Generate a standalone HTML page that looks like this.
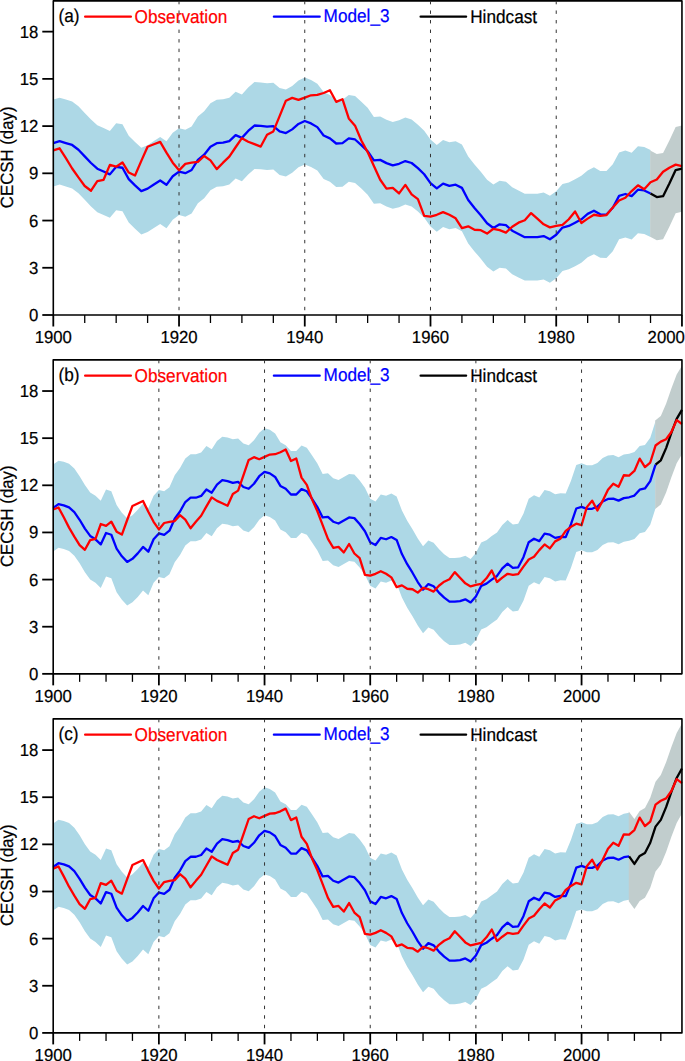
<!DOCTYPE html>
<html><head><meta charset="utf-8"><style>
html,body{margin:0;padding:0;background:#fff;}
svg{display:block;}
text{text-rendering:geometricPrecision;}
.t{font-family:"Liberation Sans", sans-serif;font-size:17.2px;stroke:currentColor;stroke-width:0.2px;}
.n{font-family:"Liberation Sans", sans-serif;font-size:16.75px;stroke:currentColor;stroke-width:0.2px;}
</style></head><body>
<svg width="685" height="1061" viewBox="0 0 685 1061">
<rect width="685" height="1061" fill="#fff"/>
<polygon points="53.30,99.62 59.59,97.72 65.87,99.62 72.16,101.52 78.45,106.26 84.73,112.91 91.02,119.55 97.31,125.24 103.59,128.09 109.88,130.94 116.17,123.34 122.45,124.29 128.74,135.68 135.02,141.94 141.31,147.64 147.60,145.17 153.88,141.00 160.17,137.01 166.46,141.37 172.74,132.83 179.03,128.13 185.32,129.77 191.60,126.56 197.89,116.44 204.18,111.30 210.46,103.27 216.75,99.74 223.04,99.26 229.32,97.65 235.61,91.71 241.90,94.44 248.18,87.53 254.47,82.07 260.75,82.39 267.04,83.20 273.33,82.72 279.61,88.02 285.90,89.62 292.19,85.93 298.47,80.47 304.76,77.58 311.05,79.99 317.33,83.68 323.62,92.03 329.91,94.92 336.19,100.06 342.48,99.74 348.77,94.92 355.05,96.04 361.34,101.67 367.63,107.77 373.91,116.92 380.20,116.44 386.48,119.68 392.77,121.96 399.06,120.35 405.34,117.62 411.63,119.55 417.92,124.69 424.20,130.79 430.49,139.62 436.78,144.92 443.06,140.10 449.35,142.35 455.64,141.23 461.92,144.44 468.21,156.48 474.50,164.51 480.78,171.74 487.07,179.77 493.36,184.57 499.64,180.86 505.93,181.67 512.21,187.29 518.50,190.50 524.79,193.71 531.07,193.71 537.36,193.71 543.65,192.59 549.93,195.80 556.22,191.30 562.51,184.07 568.79,182.47 575.08,179.26 581.37,175.87 587.65,170.45 593.94,167.31 600.23,170.92 606.51,171.09 612.80,164.34 619.09,152.39 625.37,150.55 631.66,152.70 637.94,146.26 644.23,147.02 650.52,150.09 650.52,236.99 644.23,233.92 637.94,233.15 631.66,239.59 625.37,237.45 619.09,239.28 612.80,251.24 606.51,257.99 600.23,257.81 593.94,254.21 587.65,257.35 581.37,262.76 575.08,266.15 568.79,269.36 562.51,270.97 556.22,278.20 549.93,282.69 543.65,279.48 537.36,280.61 531.07,280.61 524.79,280.61 518.50,277.39 512.21,274.18 505.93,268.56 499.64,267.76 493.36,271.47 487.07,266.66 480.78,258.64 474.50,251.41 468.21,243.38 461.92,231.33 455.64,228.12 449.35,229.25 443.06,227.00 436.78,231.82 430.49,226.52 424.20,217.68 417.92,211.58 411.63,206.44 405.34,204.52 399.06,207.25 392.77,208.85 386.48,206.58 380.20,203.34 373.91,203.82 367.63,194.66 361.34,188.56 355.05,182.94 348.77,181.82 342.48,186.63 336.19,186.96 329.91,181.82 323.62,178.93 317.33,170.57 311.05,166.88 304.76,164.47 298.47,167.36 292.19,172.82 285.90,176.52 279.61,174.91 273.33,169.61 267.04,170.09 260.75,169.29 254.47,168.97 248.18,174.43 241.90,181.33 235.61,178.60 229.32,184.55 223.04,186.15 216.75,186.63 210.46,190.17 204.18,198.20 197.89,203.34 191.60,213.45 185.32,216.66 179.03,215.02 172.74,219.73 166.46,228.27 160.17,223.91 153.88,227.89 147.60,232.07 141.31,234.53 135.02,228.84 128.74,222.58 122.45,211.19 116.17,210.24 109.88,217.83 103.59,214.99 97.31,212.14 91.02,206.44 84.73,199.80 78.45,193.16 72.16,188.41 65.87,186.52 59.59,184.62 53.30,186.52" fill="#ADD8E6"/>
<polygon points="650.17,150.40 656.80,153.93 663.09,153.01 669.38,140.44 675.66,126.95 681.95,125.42 681.95,211.69 675.66,213.22 669.38,226.71 663.09,239.28 656.80,240.20 650.17,236.67" fill="#C1CDCD"/>
<polyline points="53.30,143.07 59.59,141.17 65.87,143.07 72.16,144.97 78.45,149.71 84.73,156.35 91.02,163.00 97.31,168.69 103.59,171.54 109.88,174.38 116.17,166.79 122.45,167.74 128.74,179.13 135.02,185.39 141.31,191.09 147.60,188.62 153.88,184.44 160.17,180.46 166.46,184.82 172.74,176.28 179.03,171.57 185.32,173.22 191.60,170.00 197.89,159.89 204.18,154.75 210.46,146.72 216.75,143.19 223.04,142.70 229.32,141.10 235.61,135.16 241.90,137.89 248.18,130.98 254.47,125.52 260.75,125.84 267.04,126.65 273.33,126.16 279.61,131.46 285.90,133.07 292.19,129.38 298.47,123.92 304.76,121.02 311.05,123.43 317.33,127.13 323.62,135.48 329.91,138.37 336.19,143.51 342.48,143.19 348.77,138.37 355.05,139.49 361.34,145.11 367.63,151.22 373.91,160.37 380.20,159.89 386.48,163.13 392.77,165.40 399.06,163.80 405.34,161.07 411.63,163.00 417.92,168.13 424.20,174.24 430.49,183.07 436.78,188.37 443.06,183.55 449.35,185.80 455.64,184.67 461.92,187.89 468.21,199.93 474.50,207.96 480.78,215.19 487.07,223.22 493.36,228.02 499.64,224.31 505.93,225.11 512.21,230.73 518.50,233.95 524.79,237.16 531.07,237.16 537.36,237.16 543.65,236.03 549.93,239.25 556.22,234.75 562.51,227.52 568.79,225.92 575.08,222.70 581.37,219.31 587.65,213.90 593.94,210.76 600.23,214.37 606.51,214.54 612.80,207.79 619.09,195.84 625.37,194.00 631.66,196.14 637.94,189.71 644.23,190.47 650.52,193.54" fill="none" stroke="#00f" stroke-width="2.3" stroke-linejoin="round"/>
<polyline points="650.52,193.54 656.80,197.06 663.09,196.14 669.38,183.57 675.66,170.09 681.95,168.55" fill="none" stroke="#000" stroke-width="2.3" stroke-linejoin="round"/>
<polyline points="53.30,150.38 59.59,148.29 65.87,158.17 72.16,168.49 78.45,177.44 84.73,185.96 91.02,190.71 97.31,181.04 103.59,179.78 109.88,164.89 116.17,166.69 122.45,162.48 128.74,172.52 135.02,175.47 141.31,160.87 147.60,146.78 153.88,144.27 160.17,141.84 166.46,152.63 172.74,162.67 179.03,170.34 185.32,163.86 191.60,162.68 197.89,161.92 204.18,155.99 210.46,160.40 216.75,169.12 223.04,162.68 229.32,156.60 235.61,147.24 241.90,138.18 248.18,141.74 254.47,144.11 260.75,146.57 267.04,134.81 273.33,131.41 279.61,116.13 285.90,100.69 292.19,97.91 298.47,99.95 304.76,97.58 311.05,95.28 317.33,94.94 323.62,92.99 329.91,90.29 336.19,101.82 342.48,99.19 348.77,118.43 355.05,125.64 361.34,140.44 367.63,152.08 373.91,165.90 380.20,179.73 386.48,188.68 392.77,187.80 399.06,193.41 405.34,184.91 411.63,194.42 417.92,199.07 424.20,215.87 430.49,216.53 436.78,214.78 443.06,212.14 449.35,214.78 455.64,218.32 461.92,228.07 468.21,226.35 474.50,229.73 480.78,230.22 487.07,233.60 493.36,228.77 499.64,230.20 505.93,232.59 512.21,226.74 518.50,222.69 524.79,220.22 531.07,213.11 537.36,218.72 543.65,224.34 549.93,227.39 556.22,225.96 562.51,224.87 568.79,219.25 575.08,211.45 581.37,222.97 587.65,218.64 593.94,214.75 600.23,215.78 606.51,215.06 612.80,207.52 619.09,200.46 625.37,197.71 631.66,191.04 637.94,185.31 644.23,189.32 650.52,182.26 656.80,179.50 663.09,171.81 669.38,167.73 675.66,164.60 681.95,166.08" fill="none" stroke="#f00" stroke-width="2.3" stroke-linejoin="round"/>
<rect x="53.30" y="0.90" width="628.65" height="314.10" fill="none" stroke="#000" stroke-width="1.6" stroke-linejoin="round"/>
<line x1="42.30" y1="315.00" x2="53.30" y2="315.00" stroke="#000" stroke-width="1.8"/>
<text transform="translate(38.3,321.00) scale(1,1.04)" text-anchor="end" class="n">0</text>
<line x1="42.30" y1="267.77" x2="53.30" y2="267.77" stroke="#000" stroke-width="1.8"/>
<text transform="translate(38.3,273.77) scale(1,1.04)" text-anchor="end" class="n">3</text>
<line x1="42.30" y1="220.55" x2="53.30" y2="220.55" stroke="#000" stroke-width="1.8"/>
<text transform="translate(38.3,226.55) scale(1,1.04)" text-anchor="end" class="n">6</text>
<line x1="42.30" y1="173.32" x2="53.30" y2="173.32" stroke="#000" stroke-width="1.8"/>
<text transform="translate(38.3,179.32) scale(1,1.04)" text-anchor="end" class="n">9</text>
<line x1="42.30" y1="126.10" x2="53.30" y2="126.10" stroke="#000" stroke-width="1.8"/>
<text transform="translate(38.3,132.10) scale(1,1.04)" text-anchor="end" class="n">12</text>
<line x1="42.30" y1="78.87" x2="53.30" y2="78.87" stroke="#000" stroke-width="1.8"/>
<text transform="translate(38.3,84.87) scale(1,1.04)" text-anchor="end" class="n">15</text>
<line x1="42.30" y1="31.64" x2="53.30" y2="31.64" stroke="#000" stroke-width="1.8"/>
<text transform="translate(38.3,37.64) scale(1,1.04)" text-anchor="end" class="n">18</text>
<line x1="53.30" y1="315.00" x2="53.30" y2="326.50" stroke="#000" stroke-width="1.8"/>
<text transform="translate(53.30,342.70) scale(1,1.04)" text-anchor="middle" class="n">1900</text>
<line x1="84.73" y1="315.00" x2="84.73" y2="323.00" stroke="#000" stroke-width="1.3"/>
<line x1="116.17" y1="315.00" x2="116.17" y2="323.00" stroke="#000" stroke-width="1.3"/>
<line x1="147.60" y1="315.00" x2="147.60" y2="323.00" stroke="#000" stroke-width="1.3"/>
<line x1="179.03" y1="315.00" x2="179.03" y2="326.50" stroke="#000" stroke-width="1.8"/>
<text transform="translate(179.03,342.70) scale(1,1.04)" text-anchor="middle" class="n">1920</text>
<line x1="210.46" y1="315.00" x2="210.46" y2="323.00" stroke="#000" stroke-width="1.3"/>
<line x1="241.90" y1="315.00" x2="241.90" y2="323.00" stroke="#000" stroke-width="1.3"/>
<line x1="273.33" y1="315.00" x2="273.33" y2="323.00" stroke="#000" stroke-width="1.3"/>
<line x1="304.76" y1="315.00" x2="304.76" y2="326.50" stroke="#000" stroke-width="1.8"/>
<text transform="translate(304.76,342.70) scale(1,1.04)" text-anchor="middle" class="n">1940</text>
<line x1="336.19" y1="315.00" x2="336.19" y2="323.00" stroke="#000" stroke-width="1.3"/>
<line x1="367.63" y1="315.00" x2="367.63" y2="323.00" stroke="#000" stroke-width="1.3"/>
<line x1="399.06" y1="315.00" x2="399.06" y2="323.00" stroke="#000" stroke-width="1.3"/>
<line x1="430.49" y1="315.00" x2="430.49" y2="326.50" stroke="#000" stroke-width="1.8"/>
<text transform="translate(430.49,342.70) scale(1,1.04)" text-anchor="middle" class="n">1960</text>
<line x1="461.92" y1="315.00" x2="461.92" y2="323.00" stroke="#000" stroke-width="1.3"/>
<line x1="493.36" y1="315.00" x2="493.36" y2="323.00" stroke="#000" stroke-width="1.3"/>
<line x1="524.79" y1="315.00" x2="524.79" y2="323.00" stroke="#000" stroke-width="1.3"/>
<line x1="556.22" y1="315.00" x2="556.22" y2="326.50" stroke="#000" stroke-width="1.8"/>
<text transform="translate(556.22,342.70) scale(1,1.04)" text-anchor="middle" class="n">1980</text>
<line x1="587.65" y1="315.00" x2="587.65" y2="323.00" stroke="#000" stroke-width="1.3"/>
<line x1="619.09" y1="315.00" x2="619.09" y2="323.00" stroke="#000" stroke-width="1.3"/>
<line x1="650.52" y1="315.00" x2="650.52" y2="323.00" stroke="#000" stroke-width="1.3"/>
<line x1="681.95" y1="315.00" x2="681.95" y2="326.50" stroke="#000" stroke-width="1.8"/>
<text transform="translate(647.6,342.70) scale(1,1.04)" class="n">2000</text>
<text transform="translate(12.8,157.35) rotate(-90) scale(1,1.06)" text-anchor="middle" class="t" style="font-size:16.8px">CECSH (day)</text>
<text transform="translate(58.5,21.80) scale(1,1.08)" class="t">(a)</text>
<line x1="85.1" y1="16.70" x2="130.9" y2="16.70" stroke="#f00" stroke-width="2.3" stroke-linecap="round"/>
<text transform="translate(134.6,23.30) scale(1,1.08)" class="t" fill="#f00" color="#f00">Observation</text>
<line x1="273.9" y1="16.70" x2="319.7" y2="16.70" stroke="#00f" stroke-width="2.3" stroke-linecap="round"/>
<text transform="translate(323.6,22.00) scale(1,1.08)" class="t" fill="#00f" color="#00f">Model_3</text>
<line x1="420.6" y1="16.70" x2="466.1" y2="16.70" stroke="#000" stroke-width="2.3" stroke-linecap="round"/>
<text transform="translate(470.2,23.30) scale(1,1.08)" class="t">Hindcast</text>
<line x1="179.03" y1="0.90" x2="179.03" y2="315.00" stroke="#333" stroke-width="1" stroke-dasharray="3.4,6.16"/>
<line x1="304.76" y1="0.90" x2="304.76" y2="315.00" stroke="#333" stroke-width="1" stroke-dasharray="3.4,6.16"/>
<line x1="430.49" y1="0.90" x2="430.49" y2="315.00" stroke="#333" stroke-width="1" stroke-dasharray="3.4,6.16"/>
<line x1="556.22" y1="0.90" x2="556.22" y2="315.00" stroke="#333" stroke-width="1" stroke-dasharray="3.4,6.16"/>
<polygon points="53.20,464.38 58.48,460.64 63.77,461.83 69.05,463.87 74.33,468.62 79.62,476.26 84.90,485.09 90.19,492.39 95.47,495.78 100.75,500.87 106.04,489.50 111.32,491.20 116.60,505.12 121.89,512.76 127.17,518.36 132.45,515.30 137.74,509.87 143.02,503.42 148.31,508.17 153.59,495.78 158.87,489.93 164.16,491.28 169.44,487.16 174.72,475.16 180.01,467.99 185.29,458.49 190.57,454.20 195.86,454.20 201.14,452.40 206.42,445.95 211.71,449.18 216.99,441.12 222.28,436.64 227.56,437.53 232.84,439.33 238.13,438.43 243.41,443.45 248.69,445.24 253.98,440.22 259.26,432.70 264.54,428.31 269.83,429.83 275.11,433.41 280.40,442.37 285.68,445.24 290.96,450.97 296.25,450.97 301.53,445.60 306.81,447.75 312.10,455.45 317.38,463.51 322.66,473.90 327.95,473.36 333.23,478.20 338.52,479.99 343.80,476.95 349.08,473.90 354.37,474.62 359.65,480.53 364.93,487.70 370.22,498.80 375.50,501.51 380.78,494.38 386.07,495.74 391.35,493.53 396.63,496.41 401.92,510.50 407.20,520.69 412.49,529.18 417.77,538.51 423.05,546.15 428.34,540.55 433.62,542.76 438.90,549.04 444.19,554.13 449.47,558.03 454.75,558.03 460.04,557.53 465.32,555.83 470.61,558.88 475.89,552.94 481.17,542.54 486.46,540.13 491.74,536.12 497.02,532.42 502.31,524.88 507.59,520.06 512.87,524.39 518.16,523.75 523.44,513.64 528.73,498.70 534.01,495.17 539.29,497.58 544.58,490.03 549.86,491.15 555.14,494.36 560.43,493.24 565.71,493.56 570.99,480.71 576.28,464.98 581.56,463.32 586.84,465.28 592.13,465.28 597.41,463.08 602.70,457.99 607.98,455.44 613.26,455.11 618.55,457.14 623.83,454.60 629.11,453.75 634.40,452.05 639.68,446.12 644.96,444.93 650.25,437.64 655.53,421.19 655.53,508.23 650.25,524.68 644.96,531.97 639.68,533.16 634.40,539.10 629.11,540.79 623.83,541.64 618.55,544.18 613.26,542.15 607.98,542.49 602.70,545.03 597.41,550.12 592.13,552.32 586.84,552.32 581.56,550.36 576.28,552.02 570.99,567.76 565.71,580.61 560.43,580.28 555.14,581.41 549.86,578.20 544.58,577.07 539.29,584.62 534.01,582.21 528.73,585.74 523.44,600.68 518.16,610.80 512.87,611.44 507.59,607.10 502.31,611.92 497.02,619.47 491.74,623.16 486.46,627.18 481.17,629.59 475.89,639.98 470.61,645.93 465.32,642.87 460.04,644.57 454.75,645.08 449.47,645.08 444.19,641.17 438.90,636.08 433.62,629.80 428.34,627.59 423.05,633.20 417.77,625.56 412.49,616.22 407.20,607.73 401.92,597.55 396.63,583.46 391.35,580.57 386.07,582.78 380.78,581.42 375.50,588.55 370.22,585.85 364.93,574.74 359.65,567.57 354.37,561.66 349.08,560.95 343.80,563.99 338.52,567.04 333.23,565.25 327.95,560.41 322.66,560.95 317.38,550.56 312.10,542.49 306.81,534.79 301.53,532.64 296.25,538.02 290.96,538.02 285.68,532.28 280.40,529.42 275.11,520.46 269.83,516.88 264.54,515.35 259.26,519.74 253.98,527.27 248.69,532.28 243.41,530.49 238.13,525.47 232.84,526.37 227.56,524.58 222.28,523.68 216.99,528.16 211.71,536.22 206.42,533.00 201.14,539.45 195.86,541.24 190.57,541.24 185.29,545.54 180.01,555.03 174.72,562.20 169.44,574.20 164.16,578.32 158.87,576.98 153.59,582.83 148.31,595.22 143.02,590.47 137.74,596.92 132.45,602.35 127.17,605.40 121.89,599.80 116.60,592.16 111.32,578.24 106.04,576.55 100.75,587.92 95.47,582.83 90.19,579.43 84.90,572.13 79.62,563.30 74.33,555.67 69.05,550.91 63.77,548.88 58.48,547.69 53.20,551.42" fill="#ADD8E6"/>
<polygon points="655.18,420.40 660.82,415.99 666.10,403.79 671.38,388.52 676.67,374.62 681.95,365.63 681.95,454.25 676.67,463.23 671.38,477.14 666.10,492.40 660.82,504.61 655.18,509.02" fill="#C1CDCD"/>
<polyline points="53.20,507.90 58.48,504.17 63.77,505.35 69.05,507.39 74.33,512.14 79.62,519.78 84.90,528.61 90.19,535.91 95.47,539.30 100.75,544.40 106.04,533.02 111.32,534.72 116.60,548.64 121.89,556.28 127.17,561.88 132.45,558.83 137.74,553.39 143.02,546.94 148.31,551.70 153.59,539.30 158.87,533.45 164.16,534.80 169.44,530.68 174.72,518.68 180.01,511.51 185.29,502.02 190.57,497.72 195.86,497.72 201.14,495.93 206.42,489.48 211.71,492.70 216.99,484.64 222.28,480.16 227.56,481.06 232.84,482.85 238.13,481.95 243.41,486.97 248.69,488.76 253.98,483.74 259.26,476.22 264.54,471.83 269.83,473.35 275.11,476.94 280.40,485.89 285.68,488.76 290.96,494.49 296.25,494.49 301.53,489.12 306.81,491.27 312.10,498.97 317.38,507.03 322.66,517.42 327.95,516.89 333.23,521.72 338.52,523.51 343.80,520.47 349.08,517.42 354.37,518.14 359.65,524.05 364.93,531.22 370.22,542.32 375.50,545.03 380.78,537.90 386.07,539.26 391.35,537.05 396.63,539.94 401.92,554.03 407.20,564.21 412.49,572.70 417.77,582.04 423.05,589.67 428.34,584.07 433.62,586.28 438.90,592.56 444.19,597.65 449.47,601.56 454.75,601.56 460.04,601.05 465.32,599.35 470.61,602.41 475.89,596.46 481.17,586.06 486.46,583.66 491.74,579.64 497.02,575.95 502.31,568.40 507.59,563.58 512.87,567.92 518.16,567.27 523.44,557.16 528.73,542.22 534.01,538.69 539.29,541.10 544.58,533.55 549.86,534.67 555.14,537.89 560.43,536.76 565.71,537.08 570.99,524.24 576.28,508.50 581.56,506.84 586.84,508.80 592.13,508.80 597.41,506.60 602.70,501.51 607.98,498.97 613.26,498.63 618.55,500.66 623.83,498.12 629.11,497.27 634.40,495.57 639.68,489.64 644.96,488.45 650.25,481.16 655.53,464.71" fill="none" stroke="#00f" stroke-width="2.3" stroke-linejoin="round"/>
<polyline points="655.53,464.71 660.82,460.30 666.10,448.09 671.38,432.83 676.67,418.93 681.95,409.94" fill="none" stroke="#000" stroke-width="2.3" stroke-linejoin="round"/>
<polyline points="53.20,509.54 58.48,507.46 63.77,517.32 69.05,527.62 74.33,536.55 79.62,545.06 84.90,549.80 90.19,540.14 95.47,538.89 100.75,524.03 106.04,525.82 111.32,521.62 116.60,531.64 121.89,534.59 127.17,520.01 132.45,505.95 137.74,503.44 143.02,501.02 148.31,511.79 153.59,521.81 158.87,529.46 164.16,523.00 169.44,521.82 174.72,521.06 180.01,515.14 185.29,519.54 190.57,528.25 195.86,521.82 201.14,515.75 206.42,506.41 211.71,497.37 216.99,500.92 222.28,503.29 227.56,505.74 232.84,494.00 238.13,490.61 243.41,475.36 248.69,459.95 253.98,457.18 259.26,459.21 264.54,456.85 269.83,454.55 275.11,454.21 280.40,452.27 285.68,449.57 290.96,461.07 296.25,458.46 301.53,477.66 306.81,484.85 312.10,499.63 317.38,511.24 322.66,525.04 327.95,538.83 333.23,547.78 338.52,546.89 343.80,552.49 349.08,544.01 354.37,553.50 359.65,558.14 364.93,574.91 370.22,575.57 375.50,573.82 380.78,571.18 386.07,573.82 391.35,577.36 396.63,587.09 401.92,585.37 407.20,588.74 412.49,589.23 417.77,592.61 423.05,587.79 428.34,589.21 433.62,591.60 438.90,585.75 444.19,581.71 449.47,579.25 454.75,572.15 460.04,577.76 465.32,583.36 470.61,586.41 475.89,584.98 481.17,583.90 486.46,578.28 491.74,570.50 497.02,581.99 502.31,577.67 507.59,573.79 512.87,574.82 518.16,574.11 523.44,566.57 528.73,559.53 534.01,556.78 539.29,550.13 544.58,544.41 549.86,548.41 555.14,541.36 560.43,538.61 565.71,530.93 570.99,526.86 576.28,523.73 581.56,525.22 586.84,507.11 592.13,500.66 597.41,510.50 602.70,500.66 607.98,489.64 613.26,483.70 618.55,486.76 623.83,475.23 629.11,475.56 634.40,470.99 639.68,458.61 644.96,467.09 650.25,462.51 655.53,445.55 660.82,441.65 666.10,439.28 671.38,431.98 676.67,420.11 681.95,424.01" fill="none" stroke="#f00" stroke-width="2.3" stroke-linejoin="round"/>
<rect x="53.20" y="359.90" width="628.75" height="313.95" fill="none" stroke="#000" stroke-width="1.6" stroke-linejoin="round"/>
<line x1="42.20" y1="673.85" x2="53.20" y2="673.85" stroke="#000" stroke-width="1.8"/>
<text transform="translate(38.3,679.85) scale(1,1.04)" text-anchor="end" class="n">0</text>
<line x1="42.20" y1="626.71" x2="53.20" y2="626.71" stroke="#000" stroke-width="1.8"/>
<text transform="translate(38.3,632.71) scale(1,1.04)" text-anchor="end" class="n">3</text>
<line x1="42.20" y1="579.58" x2="53.20" y2="579.58" stroke="#000" stroke-width="1.8"/>
<text transform="translate(38.3,585.58) scale(1,1.04)" text-anchor="end" class="n">6</text>
<line x1="42.20" y1="532.44" x2="53.20" y2="532.44" stroke="#000" stroke-width="1.8"/>
<text transform="translate(38.3,538.44) scale(1,1.04)" text-anchor="end" class="n">9</text>
<line x1="42.20" y1="485.31" x2="53.20" y2="485.31" stroke="#000" stroke-width="1.8"/>
<text transform="translate(38.3,491.31) scale(1,1.04)" text-anchor="end" class="n">12</text>
<line x1="42.20" y1="438.17" x2="53.20" y2="438.17" stroke="#000" stroke-width="1.8"/>
<text transform="translate(38.3,444.17) scale(1,1.04)" text-anchor="end" class="n">15</text>
<line x1="42.20" y1="391.03" x2="53.20" y2="391.03" stroke="#000" stroke-width="1.8"/>
<text transform="translate(38.3,397.03) scale(1,1.04)" text-anchor="end" class="n">18</text>
<line x1="53.20" y1="673.85" x2="53.20" y2="685.35" stroke="#000" stroke-width="1.8"/>
<text transform="translate(53.20,701.55) scale(1,1.04)" text-anchor="middle" class="n">1900</text>
<line x1="79.62" y1="673.85" x2="79.62" y2="681.85" stroke="#000" stroke-width="1.3"/>
<line x1="106.04" y1="673.85" x2="106.04" y2="681.85" stroke="#000" stroke-width="1.3"/>
<line x1="132.45" y1="673.85" x2="132.45" y2="681.85" stroke="#000" stroke-width="1.3"/>
<line x1="158.87" y1="673.85" x2="158.87" y2="685.35" stroke="#000" stroke-width="1.8"/>
<text transform="translate(158.87,701.55) scale(1,1.04)" text-anchor="middle" class="n">1920</text>
<line x1="185.29" y1="673.85" x2="185.29" y2="681.85" stroke="#000" stroke-width="1.3"/>
<line x1="211.71" y1="673.85" x2="211.71" y2="681.85" stroke="#000" stroke-width="1.3"/>
<line x1="238.13" y1="673.85" x2="238.13" y2="681.85" stroke="#000" stroke-width="1.3"/>
<line x1="264.54" y1="673.85" x2="264.54" y2="685.35" stroke="#000" stroke-width="1.8"/>
<text transform="translate(264.54,701.55) scale(1,1.04)" text-anchor="middle" class="n">1940</text>
<line x1="290.96" y1="673.85" x2="290.96" y2="681.85" stroke="#000" stroke-width="1.3"/>
<line x1="317.38" y1="673.85" x2="317.38" y2="681.85" stroke="#000" stroke-width="1.3"/>
<line x1="343.80" y1="673.85" x2="343.80" y2="681.85" stroke="#000" stroke-width="1.3"/>
<line x1="370.22" y1="673.85" x2="370.22" y2="685.35" stroke="#000" stroke-width="1.8"/>
<text transform="translate(370.22,701.55) scale(1,1.04)" text-anchor="middle" class="n">1960</text>
<line x1="396.63" y1="673.85" x2="396.63" y2="681.85" stroke="#000" stroke-width="1.3"/>
<line x1="423.05" y1="673.85" x2="423.05" y2="681.85" stroke="#000" stroke-width="1.3"/>
<line x1="449.47" y1="673.85" x2="449.47" y2="681.85" stroke="#000" stroke-width="1.3"/>
<line x1="475.89" y1="673.85" x2="475.89" y2="685.35" stroke="#000" stroke-width="1.8"/>
<text transform="translate(475.89,701.55) scale(1,1.04)" text-anchor="middle" class="n">1980</text>
<line x1="502.31" y1="673.85" x2="502.31" y2="681.85" stroke="#000" stroke-width="1.3"/>
<line x1="528.73" y1="673.85" x2="528.73" y2="681.85" stroke="#000" stroke-width="1.3"/>
<line x1="555.14" y1="673.85" x2="555.14" y2="681.85" stroke="#000" stroke-width="1.3"/>
<line x1="581.56" y1="673.85" x2="581.56" y2="685.35" stroke="#000" stroke-width="1.8"/>
<text transform="translate(581.56,701.55) scale(1,1.04)" text-anchor="middle" class="n">2000</text>
<line x1="607.98" y1="673.85" x2="607.98" y2="681.85" stroke="#000" stroke-width="1.3"/>
<line x1="634.40" y1="673.85" x2="634.40" y2="681.85" stroke="#000" stroke-width="1.3"/>
<line x1="660.82" y1="673.85" x2="660.82" y2="681.85" stroke="#000" stroke-width="1.3"/>
<text transform="translate(12.8,516.27) rotate(-90) scale(1,1.06)" text-anchor="middle" class="t" style="font-size:16.8px">CECSH (day)</text>
<text transform="translate(58.5,380.80) scale(1,1.08)" class="t">(b)</text>
<line x1="85.1" y1="375.70" x2="130.9" y2="375.70" stroke="#f00" stroke-width="2.3" stroke-linecap="round"/>
<text transform="translate(134.6,382.30) scale(1,1.08)" class="t" fill="#f00" color="#f00">Observation</text>
<line x1="273.9" y1="375.70" x2="319.7" y2="375.70" stroke="#00f" stroke-width="2.3" stroke-linecap="round"/>
<text transform="translate(323.6,381.00) scale(1,1.08)" class="t" fill="#00f" color="#00f">Model_3</text>
<line x1="420.6" y1="375.70" x2="466.1" y2="375.70" stroke="#000" stroke-width="2.3" stroke-linecap="round"/>
<text transform="translate(470.2,382.30) scale(1,1.08)" class="t">Hindcast</text>
<line x1="158.87" y1="359.90" x2="158.87" y2="673.85" stroke="#333" stroke-width="1" stroke-dasharray="3.4,6.16"/>
<line x1="264.54" y1="359.90" x2="264.54" y2="673.85" stroke="#333" stroke-width="1" stroke-dasharray="3.4,6.16"/>
<line x1="370.22" y1="359.90" x2="370.22" y2="673.85" stroke="#333" stroke-width="1" stroke-dasharray="3.4,6.16"/>
<line x1="475.89" y1="359.90" x2="475.89" y2="673.85" stroke="#333" stroke-width="1" stroke-dasharray="3.4,6.16"/>
<line x1="581.56" y1="359.90" x2="581.56" y2="673.85" stroke="#333" stroke-width="1" stroke-dasharray="3.4,6.16"/>
<polygon points="53.20,823.43 58.48,819.69 63.77,820.88 69.05,822.92 74.33,827.67 79.62,835.31 84.90,844.14 90.19,851.44 95.47,854.83 100.75,859.92 106.04,848.55 111.32,850.25 116.60,864.17 121.89,871.81 127.17,877.41 132.45,874.35 137.74,868.92 143.02,862.47 148.31,867.22 153.59,854.83 158.87,848.98 164.16,850.33 169.44,846.21 174.72,834.21 180.01,827.04 185.29,817.54 190.57,813.25 195.86,813.25 201.14,811.45 206.42,805.00 211.71,808.23 216.99,800.17 222.28,795.69 227.56,796.58 232.84,798.38 238.13,797.48 243.41,802.50 248.69,804.29 253.98,799.27 259.26,791.75 264.54,787.36 269.83,788.88 275.11,792.46 280.40,801.42 285.68,804.29 290.96,810.02 296.25,810.02 301.53,804.65 306.81,806.80 312.10,814.50 317.38,822.56 322.66,832.95 327.95,832.41 333.23,837.25 338.52,839.04 343.80,836.00 349.08,832.95 354.37,833.67 359.65,839.58 364.93,846.75 370.22,857.85 375.50,860.56 380.78,853.43 386.07,854.79 391.35,852.58 396.63,855.46 401.92,869.55 407.20,879.74 412.49,888.23 417.77,897.56 423.05,905.20 428.34,899.60 433.62,901.81 438.90,908.09 444.19,913.18 449.47,917.08 454.75,917.08 460.04,916.58 465.32,914.88 470.61,917.93 475.89,911.99 481.17,901.59 486.46,899.18 491.74,895.17 497.02,891.47 502.31,883.93 507.59,879.11 512.87,883.44 518.16,882.80 523.44,872.69 528.73,857.75 534.01,854.22 539.29,856.63 544.58,849.08 549.86,850.20 555.14,853.41 560.43,852.29 565.71,852.61 570.99,839.76 576.28,824.03 581.56,822.37 586.84,824.33 592.13,824.33 597.41,822.13 602.70,817.04 607.98,814.49 613.26,814.16 618.55,816.19 623.83,813.65 629.11,812.80 629.11,899.84 623.83,900.69 618.55,903.23 613.26,901.20 607.98,901.54 602.70,904.08 597.41,909.17 592.13,911.37 586.84,911.37 581.56,909.41 576.28,911.07 570.99,926.81 565.71,939.66 560.43,939.33 555.14,940.46 549.86,937.25 544.58,936.12 539.29,943.67 534.01,941.26 528.73,944.79 523.44,959.73 518.16,969.85 512.87,970.49 507.59,966.15 502.31,970.97 497.02,978.52 491.74,982.21 486.46,986.23 481.17,988.64 475.89,999.03 470.61,1004.98 465.32,1001.92 460.04,1003.62 454.75,1004.13 449.47,1004.13 444.19,1000.22 438.90,995.13 433.62,988.85 428.34,986.64 423.05,992.25 417.77,984.61 412.49,975.27 407.20,966.78 401.92,956.60 396.63,942.51 391.35,939.62 386.07,941.83 380.78,940.47 375.50,947.60 370.22,944.90 364.93,933.79 359.65,926.62 354.37,920.71 349.08,920.00 343.80,923.04 338.52,926.09 333.23,924.30 327.95,919.46 322.66,920.00 317.38,909.61 312.10,901.54 306.81,893.84 301.53,891.69 296.25,897.07 290.96,897.07 285.68,891.33 280.40,888.47 275.11,879.51 269.83,875.93 264.54,874.40 259.26,878.79 253.98,886.32 248.69,891.33 243.41,889.54 238.13,884.52 232.84,885.42 227.56,883.63 222.28,882.73 216.99,887.21 211.71,895.27 206.42,892.05 201.14,898.50 195.86,900.29 190.57,900.29 185.29,904.59 180.01,914.08 174.72,921.25 169.44,933.25 164.16,937.37 158.87,936.03 153.59,941.88 148.31,954.27 143.02,949.52 137.74,955.97 132.45,961.40 127.17,964.45 121.89,958.85 116.60,951.21 111.32,937.29 106.04,935.60 100.75,946.97 95.47,941.88 90.19,938.48 84.90,931.18 79.62,922.35 74.33,914.72 69.05,909.96 63.77,907.93 58.48,906.74 53.20,910.47" fill="#ADD8E6"/>
<polygon points="628.76,811.38 634.40,819.02 639.68,811.05 644.96,807.99 650.25,797.82 655.53,781.71 660.82,774.93 666.10,762.21 671.38,746.94 676.67,733.04 681.95,723.54 681.95,813.42 676.67,822.91 671.38,836.82 666.10,852.08 660.82,864.80 655.53,871.58 650.25,887.69 644.96,897.87 639.68,900.92 634.40,908.89 628.76,901.26" fill="#C1CDCD"/>
<polyline points="53.20,866.95 58.48,863.22 63.77,864.40 69.05,866.44 74.33,871.19 79.62,878.83 84.90,887.66 90.19,894.96 95.47,898.35 100.75,903.45 106.04,892.07 111.32,893.77 116.60,907.69 121.89,915.33 127.17,920.93 132.45,917.88 137.74,912.44 143.02,905.99 148.31,910.75 153.59,898.35 158.87,892.50 164.16,893.85 169.44,889.73 174.72,877.73 180.01,870.56 185.29,861.07 190.57,856.77 195.86,856.77 201.14,854.98 206.42,848.53 211.71,851.75 216.99,843.69 222.28,839.21 227.56,840.11 232.84,841.90 238.13,841.00 243.41,846.02 248.69,847.81 253.98,842.79 259.26,835.27 264.54,830.88 269.83,832.40 275.11,835.99 280.40,844.94 285.68,847.81 290.96,853.54 296.25,853.54 301.53,848.17 306.81,850.32 312.10,858.02 317.38,866.08 322.66,876.47 327.95,875.94 333.23,880.77 338.52,882.56 343.80,879.52 349.08,876.47 354.37,877.19 359.65,883.10 364.93,890.27 370.22,901.37 375.50,904.08 380.78,896.95 386.07,898.31 391.35,896.10 396.63,898.99 401.92,913.08 407.20,923.26 412.49,931.75 417.77,941.09 423.05,948.72 428.34,943.12 433.62,945.33 438.90,951.61 444.19,956.70 449.47,960.61 454.75,960.61 460.04,960.10 465.32,958.40 470.61,961.46 475.89,955.51 481.17,945.11 486.46,942.71 491.74,938.69 497.02,935.00 502.31,927.45 507.59,922.63 512.87,926.97 518.16,926.32 523.44,916.21 528.73,901.27 534.01,897.74 539.29,900.15 544.58,892.60 549.86,893.72 555.14,896.94 560.43,895.81 565.71,896.13 570.99,883.29 576.28,867.55 581.56,865.89 586.84,867.85 592.13,867.85 597.41,865.65 602.70,860.56 607.98,858.02 613.26,857.68 618.55,859.71 623.83,857.17 629.11,856.32" fill="none" stroke="#00f" stroke-width="2.3" stroke-linejoin="round"/>
<polyline points="629.11,856.32 634.40,863.95 639.68,855.98 644.96,852.93 650.25,842.75 655.53,826.64 660.82,819.86 666.10,807.14 671.38,791.88 676.67,777.98 681.95,768.48" fill="none" stroke="#000" stroke-width="2.3" stroke-linejoin="round"/>
<polyline points="53.20,868.59 58.48,866.51 63.77,876.37 69.05,886.67 74.33,895.60 79.62,904.11 84.90,908.85 90.19,899.19 95.47,897.94 100.75,883.08 106.04,884.87 111.32,880.67 116.60,890.69 121.89,893.64 127.17,879.06 132.45,865.00 137.74,862.49 143.02,860.07 148.31,870.84 153.59,880.86 158.87,888.51 164.16,882.05 169.44,880.87 174.72,880.11 180.01,874.19 185.29,878.59 190.57,887.30 195.86,880.87 201.14,874.80 206.42,865.46 211.71,856.42 216.99,859.97 222.28,862.34 227.56,864.79 232.84,853.05 238.13,849.66 243.41,834.41 248.69,819.00 253.98,816.23 259.26,818.26 264.54,815.90 269.83,813.60 275.11,813.26 280.40,811.32 285.68,808.62 290.96,820.12 296.25,817.51 301.53,836.71 306.81,843.90 312.10,858.68 317.38,870.29 322.66,884.09 327.95,897.88 333.23,906.83 338.52,905.94 343.80,911.54 349.08,903.06 354.37,912.55 359.65,917.19 364.93,933.96 370.22,934.62 375.50,932.87 380.78,930.23 386.07,932.87 391.35,936.41 396.63,946.14 401.92,944.42 407.20,947.79 412.49,948.28 417.77,951.66 423.05,946.84 428.34,948.26 433.62,950.65 438.90,944.80 444.19,940.76 449.47,938.30 454.75,931.20 460.04,936.81 465.32,942.41 470.61,945.46 475.89,944.03 481.17,942.95 486.46,937.33 491.74,929.55 497.02,941.04 502.31,936.72 507.59,932.84 512.87,933.87 518.16,933.16 523.44,925.62 528.73,918.58 534.01,915.83 539.29,909.18 544.58,903.46 549.86,907.46 555.14,900.41 560.43,897.66 565.71,889.98 570.99,885.91 576.28,882.78 581.56,884.27 586.84,866.16 592.13,859.71 597.41,869.55 602.70,859.71 607.98,848.69 613.26,842.75 618.55,845.81 623.83,834.28 629.11,834.61 634.40,830.04 639.68,817.66 644.96,826.14 650.25,821.56 655.53,804.60 660.82,800.70 666.10,798.33 671.38,791.03 676.67,779.16 681.95,783.06" fill="none" stroke="#f00" stroke-width="2.3" stroke-linejoin="round"/>
<rect x="53.20" y="718.90" width="628.75" height="314.00" fill="none" stroke="#000" stroke-width="1.6" stroke-linejoin="round"/>
<line x1="42.20" y1="1032.90" x2="53.20" y2="1032.90" stroke="#000" stroke-width="1.8"/>
<text transform="translate(38.3,1038.90) scale(1,1.04)" text-anchor="end" class="n">0</text>
<line x1="42.20" y1="985.76" x2="53.20" y2="985.76" stroke="#000" stroke-width="1.8"/>
<text transform="translate(38.3,991.76) scale(1,1.04)" text-anchor="end" class="n">3</text>
<line x1="42.20" y1="938.63" x2="53.20" y2="938.63" stroke="#000" stroke-width="1.8"/>
<text transform="translate(38.3,944.63) scale(1,1.04)" text-anchor="end" class="n">6</text>
<line x1="42.20" y1="891.49" x2="53.20" y2="891.49" stroke="#000" stroke-width="1.8"/>
<text transform="translate(38.3,897.49) scale(1,1.04)" text-anchor="end" class="n">9</text>
<line x1="42.20" y1="844.36" x2="53.20" y2="844.36" stroke="#000" stroke-width="1.8"/>
<text transform="translate(38.3,850.36) scale(1,1.04)" text-anchor="end" class="n">12</text>
<line x1="42.20" y1="797.22" x2="53.20" y2="797.22" stroke="#000" stroke-width="1.8"/>
<text transform="translate(38.3,803.22) scale(1,1.04)" text-anchor="end" class="n">15</text>
<line x1="42.20" y1="750.08" x2="53.20" y2="750.08" stroke="#000" stroke-width="1.8"/>
<text transform="translate(38.3,756.08) scale(1,1.04)" text-anchor="end" class="n">18</text>
<line x1="53.20" y1="1032.90" x2="53.20" y2="1044.40" stroke="#000" stroke-width="1.8"/>
<text transform="translate(53.20,1060.60) scale(1,1.04)" text-anchor="middle" class="n">1900</text>
<line x1="79.62" y1="1032.90" x2="79.62" y2="1040.90" stroke="#000" stroke-width="1.3"/>
<line x1="106.04" y1="1032.90" x2="106.04" y2="1040.90" stroke="#000" stroke-width="1.3"/>
<line x1="132.45" y1="1032.90" x2="132.45" y2="1040.90" stroke="#000" stroke-width="1.3"/>
<line x1="158.87" y1="1032.90" x2="158.87" y2="1044.40" stroke="#000" stroke-width="1.8"/>
<text transform="translate(158.87,1060.60) scale(1,1.04)" text-anchor="middle" class="n">1920</text>
<line x1="185.29" y1="1032.90" x2="185.29" y2="1040.90" stroke="#000" stroke-width="1.3"/>
<line x1="211.71" y1="1032.90" x2="211.71" y2="1040.90" stroke="#000" stroke-width="1.3"/>
<line x1="238.13" y1="1032.90" x2="238.13" y2="1040.90" stroke="#000" stroke-width="1.3"/>
<line x1="264.54" y1="1032.90" x2="264.54" y2="1044.40" stroke="#000" stroke-width="1.8"/>
<text transform="translate(264.54,1060.60) scale(1,1.04)" text-anchor="middle" class="n">1940</text>
<line x1="290.96" y1="1032.90" x2="290.96" y2="1040.90" stroke="#000" stroke-width="1.3"/>
<line x1="317.38" y1="1032.90" x2="317.38" y2="1040.90" stroke="#000" stroke-width="1.3"/>
<line x1="343.80" y1="1032.90" x2="343.80" y2="1040.90" stroke="#000" stroke-width="1.3"/>
<line x1="370.22" y1="1032.90" x2="370.22" y2="1044.40" stroke="#000" stroke-width="1.8"/>
<text transform="translate(370.22,1060.60) scale(1,1.04)" text-anchor="middle" class="n">1960</text>
<line x1="396.63" y1="1032.90" x2="396.63" y2="1040.90" stroke="#000" stroke-width="1.3"/>
<line x1="423.05" y1="1032.90" x2="423.05" y2="1040.90" stroke="#000" stroke-width="1.3"/>
<line x1="449.47" y1="1032.90" x2="449.47" y2="1040.90" stroke="#000" stroke-width="1.3"/>
<line x1="475.89" y1="1032.90" x2="475.89" y2="1044.40" stroke="#000" stroke-width="1.8"/>
<text transform="translate(475.89,1060.60) scale(1,1.04)" text-anchor="middle" class="n">1980</text>
<line x1="502.31" y1="1032.90" x2="502.31" y2="1040.90" stroke="#000" stroke-width="1.3"/>
<line x1="528.73" y1="1032.90" x2="528.73" y2="1040.90" stroke="#000" stroke-width="1.3"/>
<line x1="555.14" y1="1032.90" x2="555.14" y2="1040.90" stroke="#000" stroke-width="1.3"/>
<line x1="581.56" y1="1032.90" x2="581.56" y2="1044.40" stroke="#000" stroke-width="1.8"/>
<text transform="translate(581.56,1060.60) scale(1,1.04)" text-anchor="middle" class="n">2000</text>
<line x1="607.98" y1="1032.90" x2="607.98" y2="1040.90" stroke="#000" stroke-width="1.3"/>
<line x1="634.40" y1="1032.90" x2="634.40" y2="1040.90" stroke="#000" stroke-width="1.3"/>
<line x1="660.82" y1="1032.90" x2="660.82" y2="1040.90" stroke="#000" stroke-width="1.3"/>
<text transform="translate(12.8,875.30) rotate(-90) scale(1,1.06)" text-anchor="middle" class="t" style="font-size:16.8px">CECSH (day)</text>
<text transform="translate(58.5,739.80) scale(1,1.08)" class="t">(c)</text>
<line x1="85.1" y1="734.70" x2="130.9" y2="734.70" stroke="#f00" stroke-width="2.3" stroke-linecap="round"/>
<text transform="translate(134.6,741.30) scale(1,1.08)" class="t" fill="#f00" color="#f00">Observation</text>
<line x1="273.9" y1="734.70" x2="319.7" y2="734.70" stroke="#00f" stroke-width="2.3" stroke-linecap="round"/>
<text transform="translate(323.6,740.00) scale(1,1.08)" class="t" fill="#00f" color="#00f">Model_3</text>
<line x1="420.6" y1="734.70" x2="466.1" y2="734.70" stroke="#000" stroke-width="2.3" stroke-linecap="round"/>
<text transform="translate(470.2,741.30) scale(1,1.08)" class="t">Hindcast</text>
<line x1="158.87" y1="718.90" x2="158.87" y2="1032.90" stroke="#333" stroke-width="1" stroke-dasharray="3.4,6.16"/>
<line x1="264.54" y1="718.90" x2="264.54" y2="1032.90" stroke="#333" stroke-width="1" stroke-dasharray="3.4,6.16"/>
<line x1="370.22" y1="718.90" x2="370.22" y2="1032.90" stroke="#333" stroke-width="1" stroke-dasharray="3.4,6.16"/>
<line x1="475.89" y1="718.90" x2="475.89" y2="1032.90" stroke="#333" stroke-width="1" stroke-dasharray="3.4,6.16"/>
<line x1="581.56" y1="718.90" x2="581.56" y2="1032.90" stroke="#333" stroke-width="1" stroke-dasharray="3.4,6.16"/>
</svg>
</body></html>
